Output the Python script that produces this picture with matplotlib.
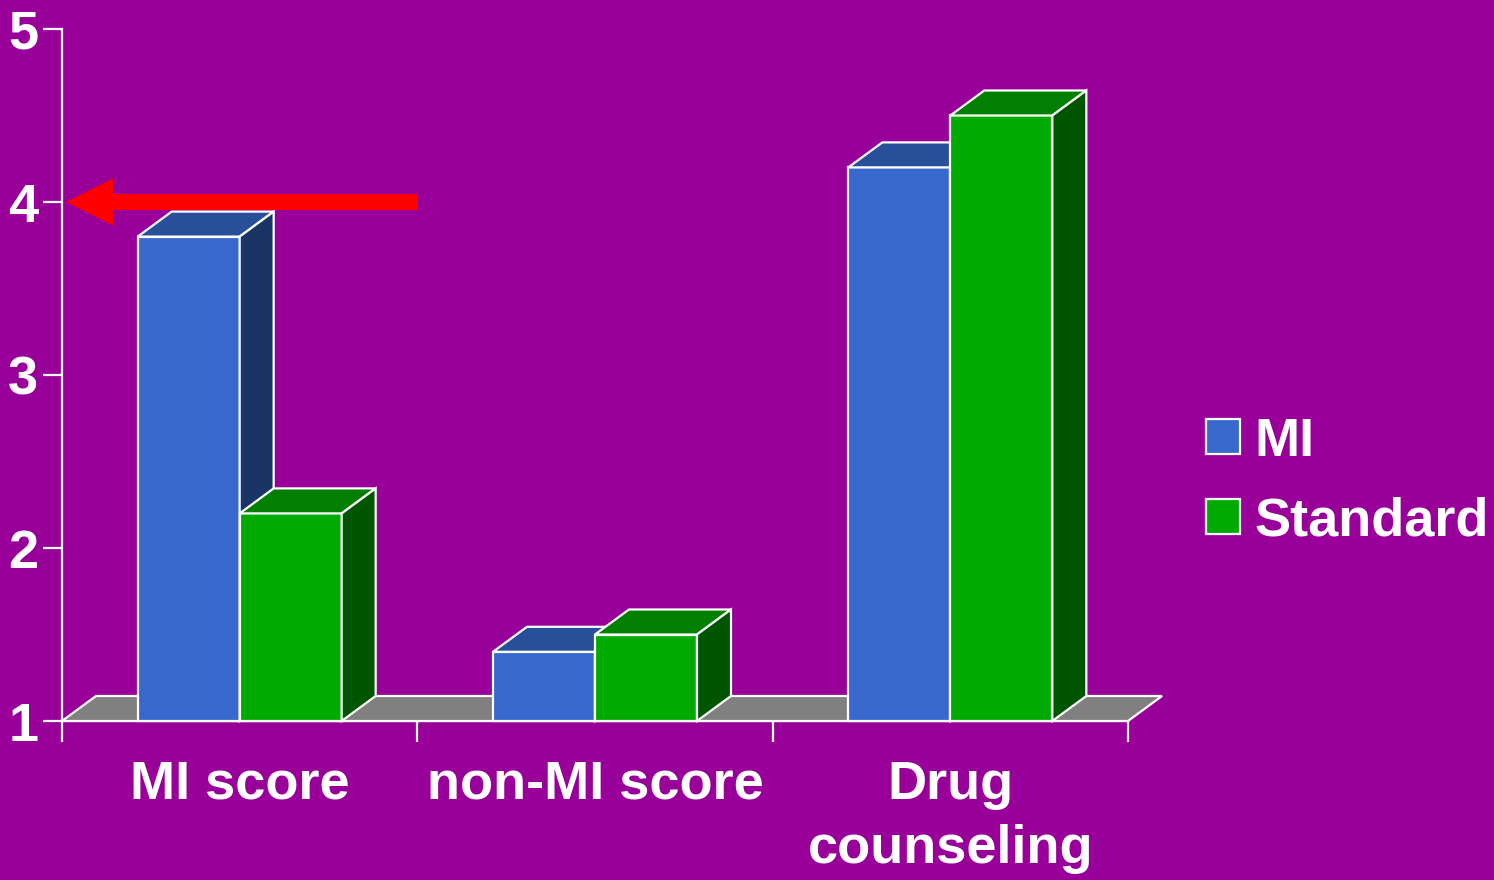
import matplotlib
matplotlib.use("Agg")
import matplotlib.pyplot as plt
from matplotlib.patches import Polygon, Patch

categories = ["MI score", "non-MI score", "Drug\ncounseling"]
series_names = ["MI", "Standard"]
mi_values = [3.8, 1.4, 4.2]
standard_values = [2.2, 1.5, 4.5]
yticks = [1, 2, 3, 4, 5]
reference_level = 4

BG = "#990099"
front_cols = ["#3868CC", "#00AA00"]
top_cols = ["#28509A", "#007F00"]
side_cols = ["#1A3466", "#005500"]
FLOOR = "#808080"

W, H = 1494, 880
fig = plt.figure(figsize=(W / 100, H / 100), dpi=100, facecolor=BG)
x0, x1, y0, y1 = 62, 1128, 721, 29
ax = fig.add_axes([x0 / W, (H - y0) / H, (x1 - x0) / W, (y0 - y1) / H])
ax.set_facecolor(BG)
ax.set_xlim(0, 3)
ax.set_ylim(1, 5)

pxx = (x1 - x0) / 3.0
pxy = (y0 - y1) / 4.0
dx = 34 / pxx
dy = 25 / pxy
bw = 102 / pxx

ec = "white"
lw = 1.6

# floor
ax.add_patch(Polygon([(0, 1), (3, 1), (3 + dx, 1 + dy), (dx, 1 + dy)],
                     closed=True, fc=FLOOR, ec=ec, lw=lw, clip_on=False, zorder=1))

def box(xl, v, i):
    xr = xl + bw
    ax.add_patch(Polygon([(xl, 1), (xr, 1), (xr, v), (xl, v)], closed=True,
                         fc=front_cols[i], ec=ec, lw=lw, clip_on=False, zorder=2))
    ax.add_patch(Polygon([(xl, v), (xr, v), (xr + dx, v + dy), (xl + dx, v + dy)], closed=True,
                         fc=top_cols[i], ec=ec, lw=lw, clip_on=False, zorder=2))
    ax.add_patch(Polygon([(xr, 1), (xr + dx, 1 + dy), (xr + dx, v + dy), (xr, v)], closed=True,
                         fc=side_cols[i], ec=ec, lw=lw, clip_on=False, zorder=2))

for g in range(len(categories)):
    c = g + 0.5
    box(c - bw, mi_values[g], 0)
    box(c, standard_values[g], 1)

# red arrow at reference level
tip = 4 / pxx
tail = 356 / pxx
hl = 47 / pxx
sh = 8 / pxy
hh = 23.5 / pxy
r = reference_level
ax.add_patch(Polygon([(tip, r), (tip + hl, r + hh), (tip + hl, r + sh), (tail, r + sh),
                      (tail, r - sh), (tip + hl, r - sh), (tip + hl, r - hh)],
                     closed=True, fc="#FF0000", ec="none", clip_on=False, zorder=3))

# axes styling
for s in ["top", "right"]:
    ax.spines[s].set_visible(False)
for s in ["left", "bottom"]:
    ax.spines[s].set_color("white")
    ax.spines[s].set_linewidth(1.6)
    ax.spines[s].set_zorder(0.5)

font = "Liberation Sans"
FS = 39
ax.set_yticks(yticks)
ax.set_yticklabels([str(t) for t in yticks], fontsize=FS, fontweight="bold",
                   color="white", family=font)
ax.tick_params(axis="y", length=14, width=1.6, color="white", pad=3)

ax.set_xticks([0, 1, 2, 3])
ax.set_xticklabels([])
ax.tick_params(axis="x", which="major", length=15, width=1.6, color="white")
ax.set_xticks([0.5, 1.5, 2.5], minor=True)
ax.set_xticklabels(categories, minor=True, fontsize=FS, fontweight="bold",
                   color="white", family=font, linespacing=1.35)
ax.tick_params(axis="x", which="minor", length=0, pad=28)

handles = [Patch(fc=front_cols[0], ec="white", lw=1.6),
           Patch(fc=front_cols[1], ec="white", lw=1.6)]
leg = fig.legend(handles, series_names, loc="upper left",
                 bbox_to_anchor=(1206 / W, 1 - 417 / H), frameon=False,
                 prop=dict(family=font, weight="bold", size=FS),
                 handlelength=0.62, handleheight=0.62, handletextpad=0.28,
                 labelspacing=0.55, borderaxespad=0, borderpad=0)
for t in leg.get_texts():
    t.set_color("white")

fig.savefig("out.png", dpi=100, facecolor=BG)
